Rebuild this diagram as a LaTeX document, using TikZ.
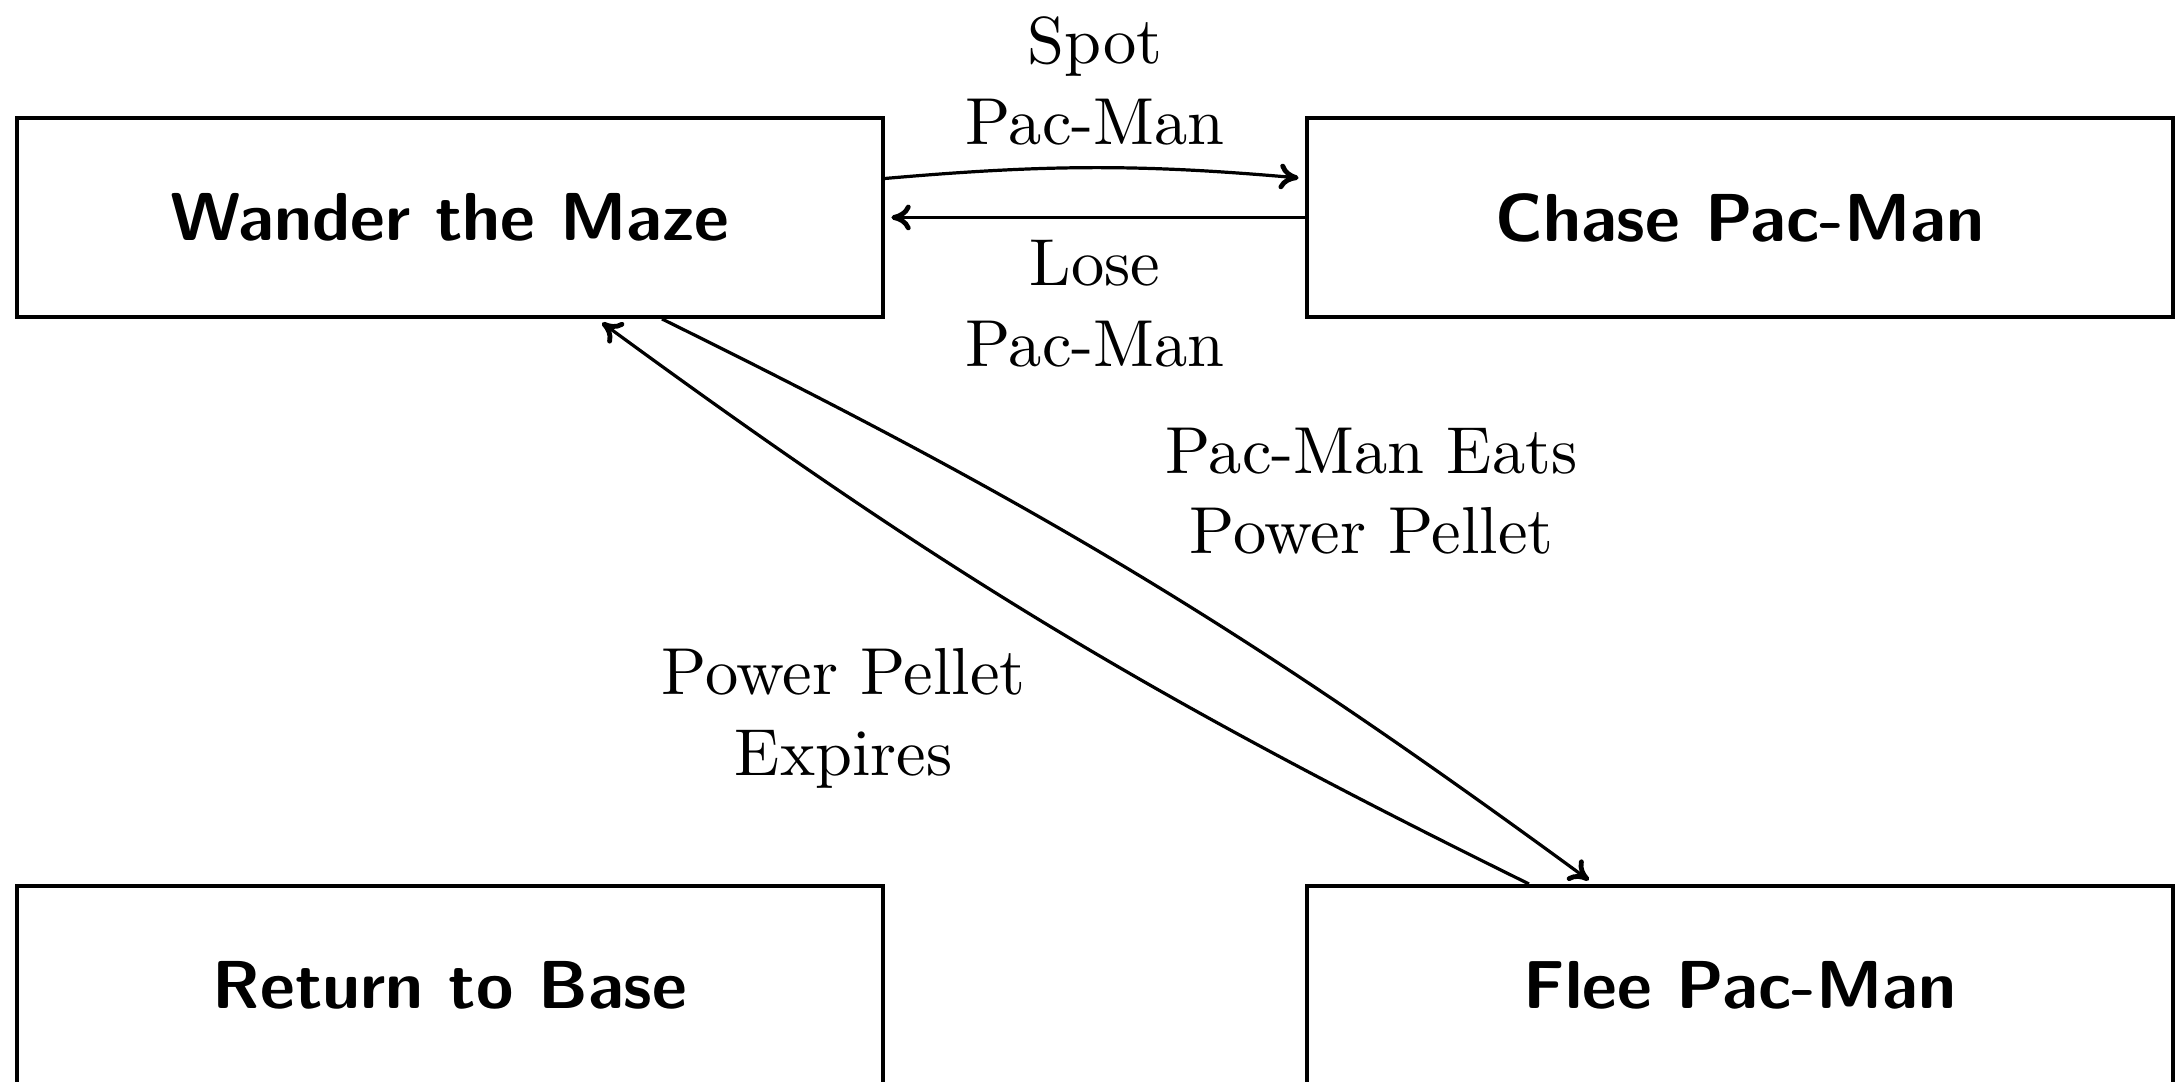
\documentclass[tikz,border=0pt]{standalone}
\usetikzlibrary{calc,arrows.meta}
\begin{document}
\begin{tikzpicture}[x=0.155763pt, y=-0.155763pt,
  state/.style={draw, line width=0.62pt, minimum width=134.9pt, minimum height=31pt, inner sep=0pt,
    font=\sffamily\bfseries\fontsize{10.57}{12.6}\selectfont},
  trans/.style={-{To[length=3pt,width=4pt,line width=0.75pt]}, line width=0.5pt, shorten >=1pt},
  lbl/.style={font=\fontsize{10.35}{12.6}\selectfont, align=center}]
\useasboundingbox (0,0) rectangle (2183,1082);
\node[state] (wander) at (450,217.5) {Wander the Maze};
\node[state] (chase) at (1740,217.5) {Chase Pac-Man};
\node[state] (ret) at (450,985.5) {Return to Base};
\node[state] (flee) at (1740,985.5) {Flee Pac-Man};
\draw[trans] ($(wander.east)+(0,-39)$) to[bend left=5] node[above, lbl] {Spot\\Pac-Man} ($(chase.west)+(0,-39)$);
\draw[trans] (chase.west) -- node[below, lbl] {Lose\\Pac-Man} (wander.east);
\draw[trans] ($(wander.south)+(212,0)$) to[bend left=5] node[above right, lbl] {Pac-Man Eats\\Power Pellet} ($(flee.north)+(-146,0)$);
\draw[trans] ($(flee.north)+(-211,0)$) to[bend left=5] node[below left, lbl] {Power Pellet\\Expires} ($(wander.south)+(147,0)$);
\end{tikzpicture}
\end{document}
